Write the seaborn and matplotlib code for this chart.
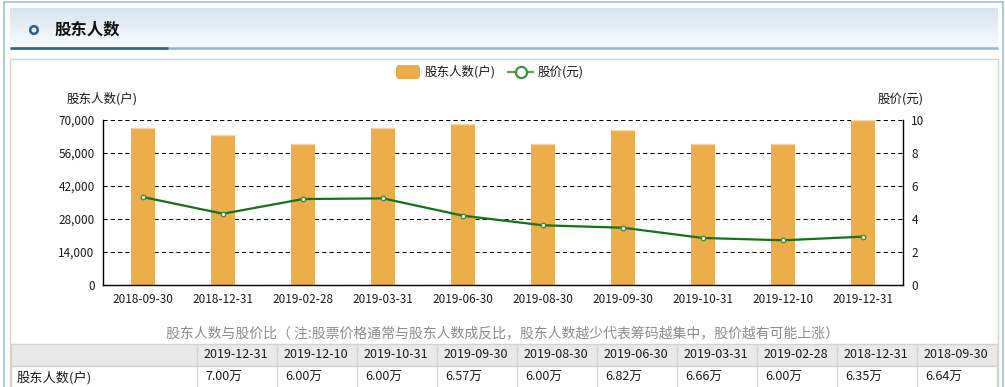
import numpy as np
import pandas as pd
import matplotlib
matplotlib.use("Agg")
import matplotlib.pyplot as plt
import seaborn as sns
from matplotlib.patches import Rectangle, FancyBboxPatch, Circle
from matplotlib.colors import LinearSegmentedColormap
from matplotlib.ticker import StrMethodFormatter

# ---------------- data ----------------
dates = ['2018-09-30', '2018-12-31', '2019-02-28', '2019-03-31', '2019-06-30',
         '2019-08-30', '2019-09-30', '2019-10-31', '2019-12-10', '2019-12-31']
holders = [66400, 63500, 60000, 66600, 68200, 60000, 65700, 60000, 60000, 70000]
price = [5.33, 4.32, 5.21, 5.25, 4.20, 3.62, 3.47, 2.85, 2.71, 2.93]
left_ticks = [0, 14000, 28000, 42000, 56000, 70000]
right_ticks = [0, 2, 4, 6, 8, 10]
title = '股东人数'
bar_name = '股东人数(户)'
line_name = '股价(元)'
note = '股东人数与股价比（ 注:股票价格通常与股东人数成反比，股东人数越少代表筹码越集中，股价越有可能上涨）'

sns.set_style("white")
plt.rcParams['font.family'] = ['Noto Sans CJK SC', 'DejaVu Sans']
plt.rcParams['axes.unicode_minus'] = False

W, H = 1005, 387
fig = plt.figure(figsize=(W / 100, H / 100), dpi=100)
fig.patch.set_facecolor('white')

BAR_C = '#ebae4a'
LINE_C = '#167016'
TXT = '#1a1a1a'

# ---------------- overlay (page decorations) ----------------
ov = fig.add_axes([0, 0, 1, 1], zorder=0)
ov.axis('off')

cmap = LinearSegmentedColormap.from_list('hdr', ['#d7e4f0', '#f8fbfd'])
ov.imshow(np.linspace(0, 1, 60).reshape(-1, 1), cmap=cmap, aspect='auto',
          extent=[10, 998, 47, 8], origin='upper', zorder=1)
ov.set_xlim(0, W)
ov.set_ylim(H, 0)

frame_c = '#9dc1d9'
ov.plot([4, 1003], [2, 2], color=frame_c, lw=1.2, zorder=2)
ov.plot([4, 4], [2, H], color=frame_c, lw=1.2, zorder=2)
ov.plot([1003, 1003], [2, H], color=frame_c, lw=1.2, zorder=2)

ov.plot([10, 998], [47.5, 47.5], color='#8bb8d2', lw=1.8, zorder=2, solid_capstyle='butt')
ov.plot([10, 168], [47.5, 47.5], color='#24648d', lw=1.8, zorder=3, solid_capstyle='butt')
ov.add_patch(Circle((34, 30), 3.8, facecolor='#eef4f9', edgecolor='#2a5f86', lw=1.8, zorder=3))
ov.text(55, 30, title, fontsize=11.8, fontweight='bold', va='center', ha='left', color='#111111', zorder=3)

ov.add_patch(Rectangle((10, 59), 988, 360, facecolor='white', edgecolor='#d3d3d3', lw=1, zorder=1))

# legend
ov.add_patch(FancyBboxPatch((396, 65), 24, 14, boxstyle='round,pad=0,rounding_size=3',
                            facecolor=BAR_C, edgecolor='none', zorder=3))
ov.text(425, 72, bar_name, fontsize=9, va='center', ha='left', color=TXT, zorder=3)
ov.plot([508, 533], [72, 72], color='#5a9e5a', lw=1.6, zorder=3)
ov.plot([520.5], [72], marker='o', markersize=8, markerfacecolor='white',
        markeredgecolor='#3f8f3f', markeredgewidth=1.6, zorder=4)
ov.text(538, 72, line_name, fontsize=9, va='center', ha='left', color=TXT, zorder=3)

ov.text(67, 99, bar_name, fontsize=9, va='center', ha='left', color=TXT, zorder=3)
ov.text(878, 99, line_name, fontsize=9, va='center', ha='left', color=TXT, zorder=3)

ov.text(502, 333, note, fontsize=10, va='center', ha='center', color='#8c8c8c', zorder=3)

# table
grid_c = '#d3d3d3'
ov.add_patch(Rectangle((11, 344), 986, 22, facecolor='#e9e9e9', edgecolor=grid_c, lw=1, zorder=2))
ov.add_patch(Rectangle((11, 366), 986, 40, facecolor='white', edgecolor=grid_c, lw=1, zorder=2))
rev_dates = dates[::-1]
rev_vals = holders[::-1]
for i, (d, v) in enumerate(zip(rev_dates, rev_vals)):
    x0 = 197 + 80 * i
    ov.plot([x0, x0], [344, H], color=grid_c, lw=1, zorder=3)
    ov.text(x0 + 6, 355, d, fontsize=9, va='center', ha='left', color=TXT, zorder=4)
    ov.text(x0 + 8, 377.5, f'{v / 10000:.2f}万', fontsize=9, va='center', ha='left', color=TXT, zorder=4)
ov.text(17, 377.5, bar_name, fontsize=9.5, va='center', ha='left', color=TXT, zorder=4)

# ---------------- chart ----------------
L, R, T, B = 103, 903, 120, 285
ax = fig.add_axes([L / W, 1 - B / H, (R - L) / W, (B - T) / H], zorder=1)
ax.patch.set_visible(False)

df = pd.DataFrame({'date': dates, 'holders': holders, 'price': price})
sns.barplot(data=df, x='date', y='holders', color=BAR_C, saturation=1, width=0.3, ax=ax,
            linewidth=0, edgecolor='none')
for p in list(ax.patches):
    ax.hlines(p.get_height(), p.get_x(), p.get_x() + p.get_width(),
              color='#f7d9a2', linewidth=1.0, zorder=p.get_zorder() + 0.1)
ax.set_ylim(0, 70000)
ax.set_yticks(left_ticks)
ax.yaxis.set_major_formatter(StrMethodFormatter('{x:,.0f}'))
ax.set_axisbelow(True)
ax.yaxis.grid(True, color='black', linestyle=(0, (4, 3)), linewidth=0.75)
ax.xaxis.grid(False)
ax.set_xlabel('')
ax.set_ylabel('')
for s in ['top', 'right']:
    ax.spines[s].set_visible(False)
for s in ['left', 'bottom']:
    ax.spines[s].set_color('black')
    ax.spines[s].set_linewidth(1)
ax.tick_params(axis='y', length=0, pad=6, labelsize=8.5, labelcolor=TXT)
ax.tick_params(axis='x', length=0, pad=6, labelsize=8.5, labelcolor=TXT)

ax2 = ax.twinx()
ax2.set_zorder(2)
ax2.patch.set_visible(False)
sns.pointplot(data=df, x='date', y='price', ax=ax2, color=LINE_C, markers='o',
              linestyles='-', linewidth=1.6, markersize=3.2,
              markerfacecolor='white', markeredgecolor='#3d8f3d', markeredgewidth=1.0)
ax2.set_ylim(0, 10)
ax2.set_yticks(right_ticks)
ax2.set_xlim(-0.5, len(dates) - 0.5)
ax.set_xlim(-0.5, len(dates) - 0.5)
ax2.set_ylabel('')
ax2.set_xlabel('')
ax2.grid(False)
for s in ['top', 'left', 'bottom']:
    ax2.spines[s].set_visible(False)
ax2.spines['right'].set_visible(True)
ax2.spines['right'].set_color('black')
ax2.spines['right'].set_linewidth(1)
ax2.tick_params(axis='y', length=0, pad=6, labelsize=8.5, labelcolor=TXT, right=True, labelright=True)

fig.savefig('out.png', dpi=100, facecolor='white')
